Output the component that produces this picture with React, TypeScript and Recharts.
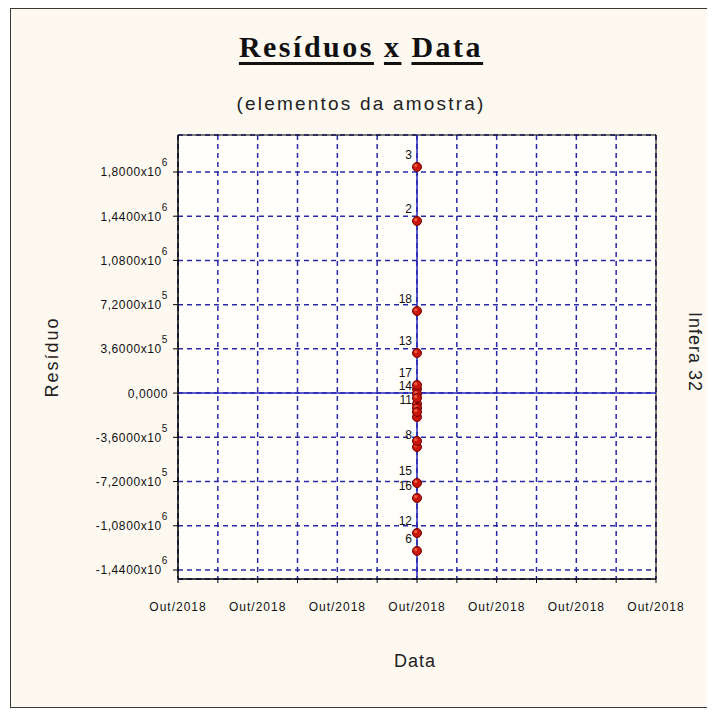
import React from "react";
import {
  ScatterChart,
  Scatter,
  XAxis,
  YAxis,
  CartesianGrid,
  ReferenceLine,
  ReferenceArea,
} from "recharts";

// sample numbers and their residuals
const sampleIds = [1, 2, 3, 4, 5, 6, 7, 8, 9, 10, 11, 12, 13, 14, 15, 16, 17, 18];
const residuals = [
  33000, 1401000, 1841000, -7000, -89000, -1285000, -121000, -439000, -195000,
  -390000, -154000, -1139000, 326000, -40000, -732000, -854000, 66000, 668000,
];
// labels that are readable in the original (the rest sit under other points)
const labelledIds = [3, 2, 18, 13, 17, 14, 11, 8, 15, 16, 12, 6];

const sampleDatePos = 3;
const dateTicks = [0, 0.5, 1, 1.5, 2, 2.5, 3, 3.5, 4, 4.5, 5, 5.5, 6];
const dateTickLabel = "Out/2018";
const residualTicks = [
  -1440000, -1080000, -720000, -360000, 0, 360000, 720000, 1080000, 1440000, 1800000,
];
const residualMin = -1513400;
const residualMax = 2101000;

const points = sampleIds.map((id, i) => ({
  x: sampleDatePos,
  y: residuals[i],
  label: labelledIds.includes(id) ? String(id) : "",
}));

const GRID = "#2a2aa6";
const SANS = "'Liberation Sans', Arial, sans-serif";

function splitSci(v: number) {
  if (v === 0) return { mant: "0,0000", exp: "" };
  const e = Math.floor(Math.log10(Math.abs(v)) + 1e-9);
  const m = v / Math.pow(10, e);
  return { mant: m.toFixed(4).replace(".", ",") + "x10", exp: String(e) };
}

function ResidualTick({ x, y, payload }: any) {
  const { mant, exp } = splitSci(payload.value);
  return (
    <text
      x={x}
      y={y}
      dy={4.5}
      textAnchor="end"
      fontFamily={SANS}
      fontSize={12}
      letterSpacing={0.6}
      fill="#111"
    >
      {mant}
      {exp && (
        <tspan dy={-10} fontSize={10}>
          {exp}
        </tspan>
      )}
    </text>
  );
}

function DateTick({ x, y, payload }: any) {
  if (!Number.isInteger(payload.value)) return <g />;
  return (
    <text
      x={x}
      y={y}
      dy={28}
      textAnchor="middle"
      fontFamily={SANS}
      fontSize={12}
      letterSpacing={1}
      fill="#111"
    >
      {dateTickLabel}
    </text>
  );
}

function SamplePoint({ cx, cy, payload }: any) {
  return (
    <g>
      {payload.label && (
        <text
          x={cx - 5}
          y={cy - 8}
          textAnchor="end"
          fontFamily={SANS}
          fontSize={12}
          fill="#111"
        >
          {payload.label}
        </text>
      )}
      <circle cx={cx} cy={cy} r={4.5} fill="#c8160a" stroke="#6e0000" strokeWidth={1} />
      <circle cx={cx - 1.3} cy={cy - 1.3} r={1.6} fill="#ff7a5a" opacity={0.7} />
    </g>
  );
}

const underline = {
  textDecoration: "underline",
  textDecorationThickness: "3px",
  textUnderlineOffset: "5px",
} as const;

export default function App() {
  return (
    <div style={{ position: "relative", width: 700, height: 700, background: "#fff" }}>
      <div
        style={{
          position: "absolute",
          left: 2,
          top: 0,
          width: 698,
          height: 700,
          boxSizing: "border-box",
          border: "1px solid #3a3a3a",
          background: "#fdf9f1",
        }}
      />
      <div style={{ position: "absolute", left: 0, top: 0 }}>
        <ScatterChart
          width={700}
          height={700}
          margin={{ top: 127, right: 52, left: 80, bottom: 99 }}
        >
          <CartesianGrid
            stroke={GRID}
            strokeWidth={1.5}
            strokeDasharray="5 4"
            fill="#fffefb"
            fillOpacity={1}
          />
          <XAxis
            type="number"
            dataKey="x"
            domain={[0, 6]}
            ticks={dateTicks}
            interval={0}
            height={30}
            tickSize={4}
            tickMargin={0}
            tick={<DateTick />}
            axisLine={{ stroke: "#000" }}
            tickLine={{ stroke: "#000" }}
          />
          <YAxis
            type="number"
            dataKey="y"
            domain={[residualMin, residualMax]}
            ticks={residualTicks}
            interval={0}
            width={90}
            tickSize={5}
            tickMargin={5}
            tick={<ResidualTick />}
            axisLine={{ stroke: "#000" }}
            tickLine={{ stroke: "#000" }}
          />
          <ReferenceLine y={0} stroke="#2424b8" strokeWidth={1.5} />
          <ReferenceLine x={sampleDatePos} stroke="#2424b8" strokeWidth={1.5} />
          <ReferenceArea
            x1={0}
            x2={6}
            y1={residualMin}
            y2={residualMax}
            fill="none"
            stroke="#000"
            strokeWidth={1}
          />
          <Scatter
            data={points}
            dataKey="y"
            shape={<SamplePoint />}
            isAnimationActive={false}
          />
        </ScatterChart>
      </div>

      <div
        style={{
          position: "absolute",
          left: 0,
          top: 24,
          width: 706,
          textAlign: "center",
          fontFamily: "'Liberation Serif', 'Times New Roman', serif",
          fontWeight: "bold",
          fontSize: 30,
          lineHeight: "30px",
          letterSpacing: 2.5,
          color: "#111",
          whiteSpace: "nowrap",
        }}
      >
        <span style={underline}>Resíduos</span> <span style={underline}>x</span>{" "}
        <span style={underline}>Data</span>
      </div>
      <div
        style={{
          position: "absolute",
          left: 0,
          top: 86,
          width: 706,
          textAlign: "center",
          fontFamily: SANS,
          fontSize: 19,
          lineHeight: "19px",
          letterSpacing: 2.2,
          color: "#222",
          whiteSpace: "nowrap",
        }}
      >
        (elementos da amostra)
      </div>
      <div
        style={{
          position: "absolute",
          left: 307,
          top: 644,
          width: 200,
          textAlign: "center",
          fontFamily: SANS,
          fontSize: 18,
          lineHeight: "18px",
          letterSpacing: 1,
          color: "#222",
        }}
      >
        Data
      </div>
      <div
        style={{
          position: "absolute",
          left: 44,
          top: 349,
          transform: "translate(-50%, -50%) rotate(-90deg)",
          fontFamily: SANS,
          fontSize: 18,
          letterSpacing: 2,
          color: "#222",
          whiteSpace: "nowrap",
        }}
      >
        Resíduo
      </div>
      <div
        style={{
          position: "absolute",
          left: 686,
          top: 344,
          transform: "translate(-50%, -50%) rotate(90deg)",
          fontFamily: SANS,
          fontSize: 18,
          letterSpacing: 1,
          color: "#222",
          whiteSpace: "nowrap",
        }}
      >
        Infera 32
      </div>
    </div>
  );
}
